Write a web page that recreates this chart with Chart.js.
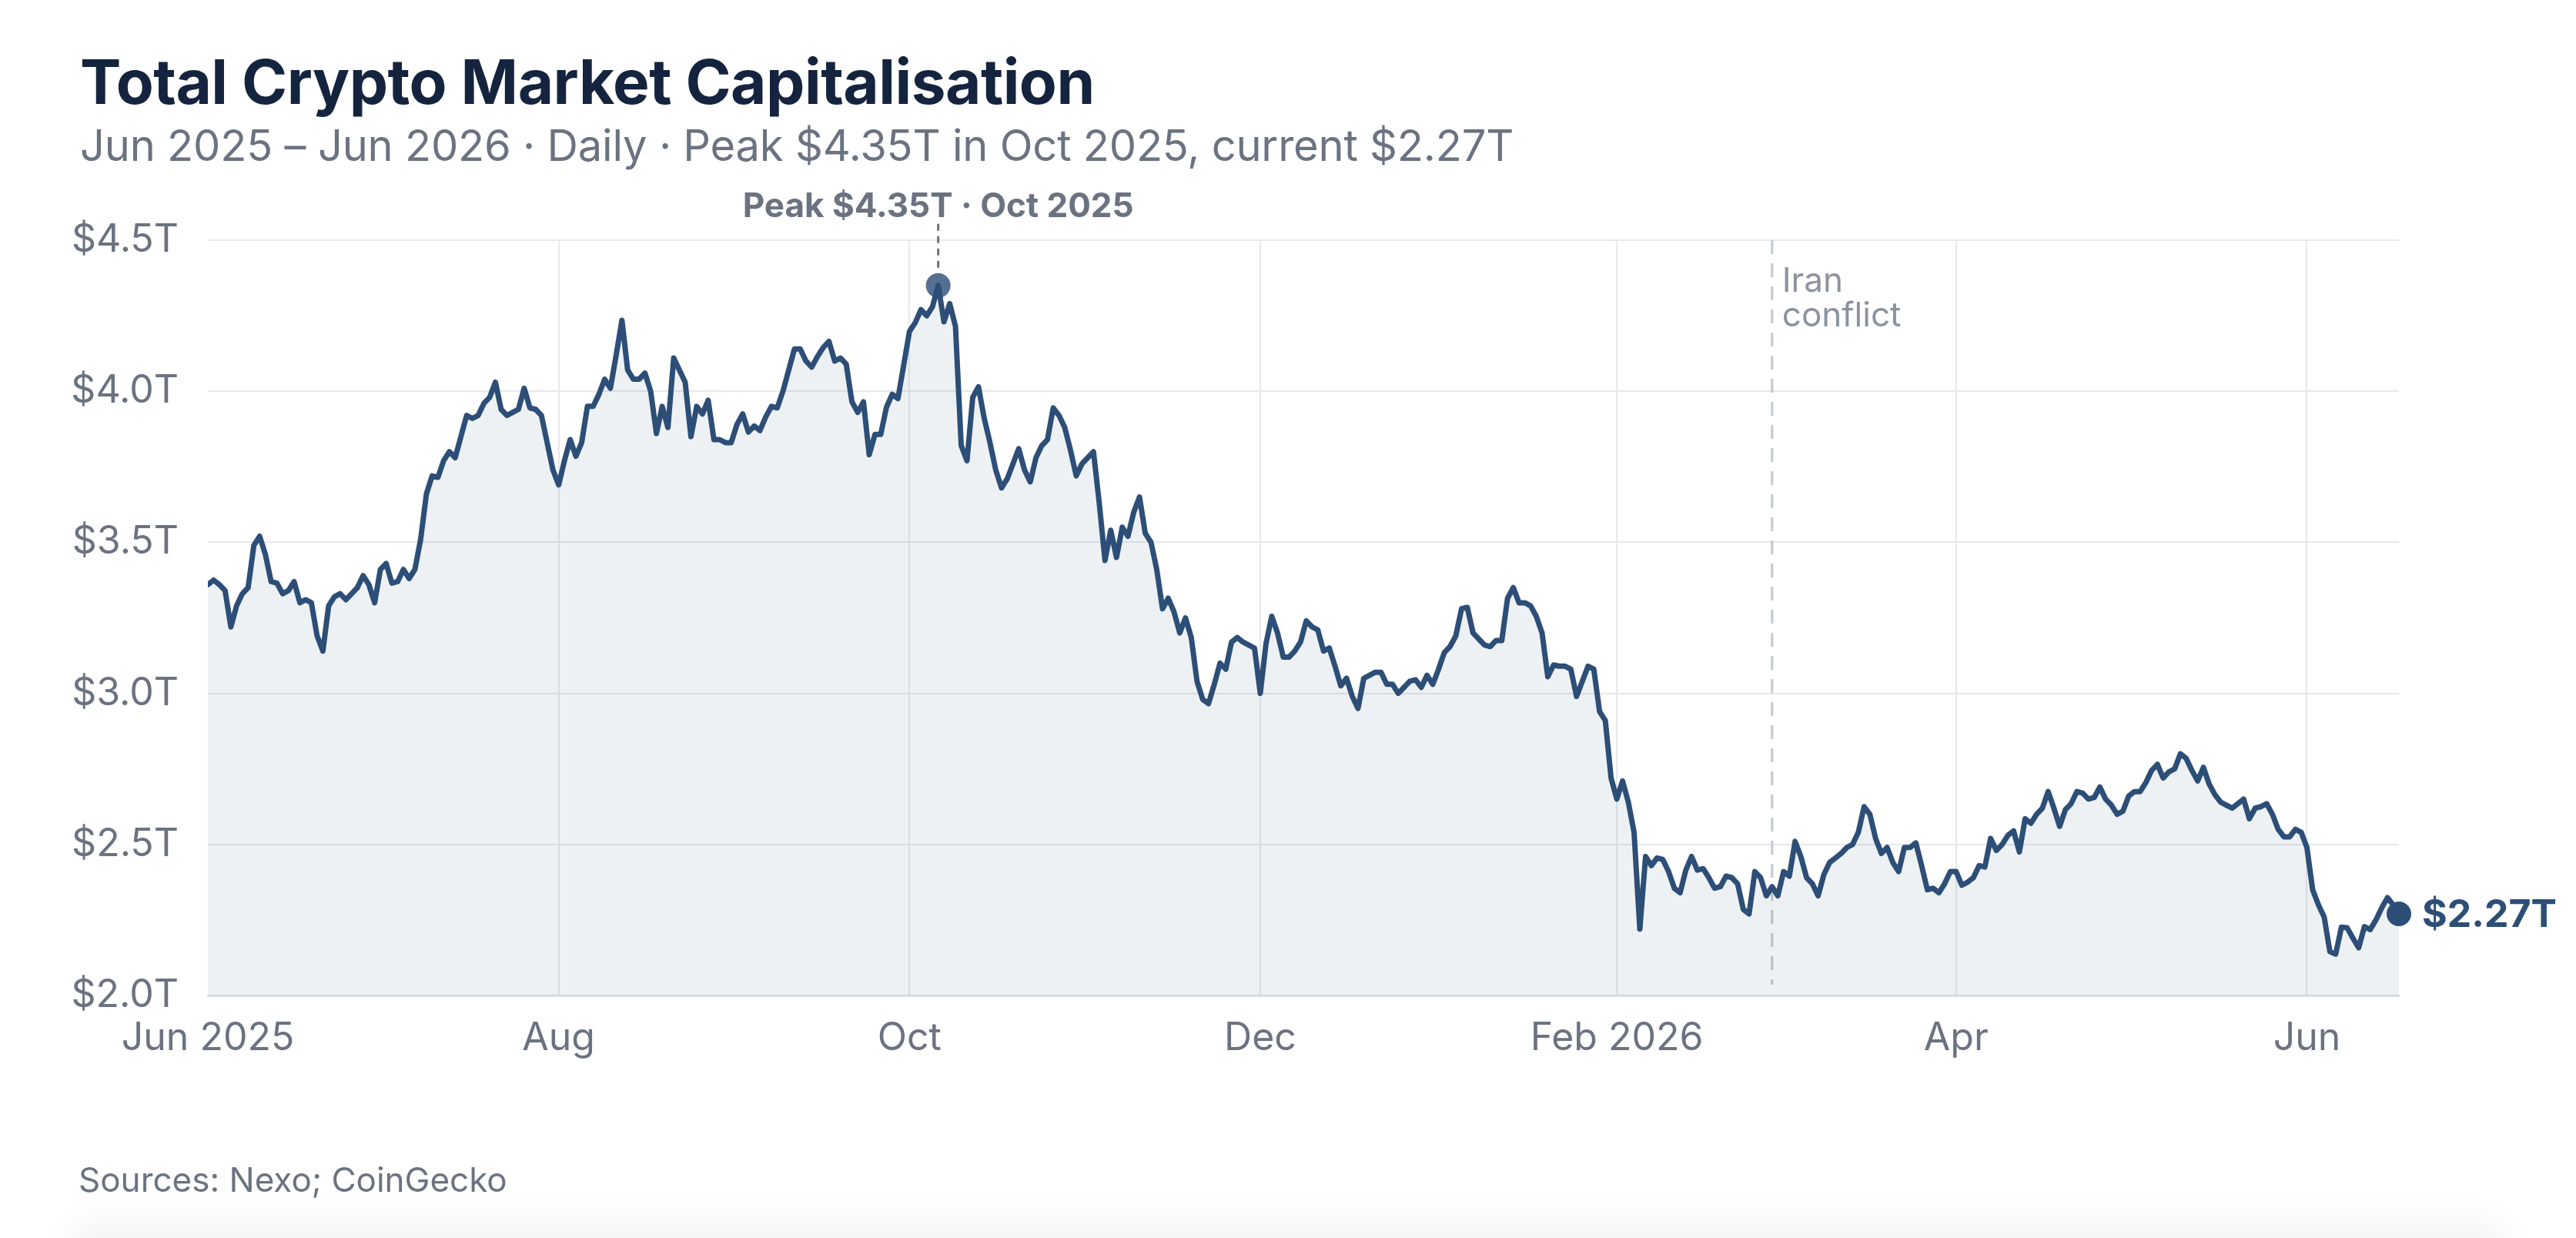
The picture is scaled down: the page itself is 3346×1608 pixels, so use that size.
<!DOCTYPE html>
<html lang="en">
<head>
<meta charset="utf-8">
<title>Total Crypto Market Capitalisation</title>
<script src="https://cdn.jsdelivr.net/npm/chart.js@4.4.1/dist/chart.umd.min.js"></script>
<style>
  html, body { margin: 0; padding: 0; background: #ffffff; }
  body { position: relative; width: 3346px; height: 1608px; overflow: hidden; font-family: Inter, "Noto Sans", sans-serif; }
  .txt { position: absolute; white-space: nowrap; line-height: 1; }
  #title { left: 104px; top: 66px; font-size: 80px; font-weight: 700; color: #14243e; letter-spacing: -0.5px; }
  #subtitle { left: 104px; top: 161px; font-size: 56px; color: #6b7280; letter-spacing: -0.2px; }
  #source { left: 102px; top: 1510px; font-size: 44px; color: #6b7280; }
  #chartBox { position: absolute; left: 0; top: 0; width: 3346px; height: 1608px; }
  #shade { position: absolute; left: 90px; right: 90px; top: 1590px; height: 80px; background: rgba(0, 0, 0, 0.05); filter: blur(22px); border-radius: 40px; }
</style>
</head>
<body>
<div id="shade"></div>
<div id="chartBox"><canvas id="chart" width="3346" height="1608"></canvas></div>
<div class="txt" id="title">Total Crypto Market Capitalisation</div>
<div class="txt" id="subtitle">Jun 2025 – Jun 2026 · Daily · Peak $4.35T in Oct 2025, current $2.27T</div>
<div class="txt" id="source">Sources: Nexo; CoinGecko</div>
<script>
const startDate = "2025-06-01";

// total market cap, $ trillion, one value per day from startDate
const marketCap = [
  3.36, 3.375, 3.36, 3.34, 3.22, 3.29, 3.33, 3.35, 3.49, 3.52,
  3.46, 3.37, 3.365, 3.33, 3.34, 3.37, 3.30, 3.31, 3.30, 3.19,
  3.14, 3.29, 3.32, 3.33, 3.31, 3.33, 3.35, 3.39, 3.36, 3.30,
  3.41, 3.43, 3.365, 3.37, 3.41, 3.38, 3.41, 3.51, 3.66, 3.72,
  3.715, 3.77, 3.80, 3.78, 3.85, 3.92, 3.91, 3.92, 3.96, 3.98,
  4.03, 3.94, 3.92, 3.93, 3.94, 4.01, 3.945, 3.94, 3.92, 3.83,
  3.74, 3.69, 3.77, 3.84, 3.785, 3.83, 3.95, 3.95, 3.99, 4.04,
  4.01, 4.12, 4.235, 4.07, 4.04, 4.04, 4.06, 4.00, 3.86, 3.95,
  3.88, 4.11, 4.07, 4.03, 3.85, 3.95, 3.925, 3.97, 3.84, 3.84,
  3.83, 3.83, 3.89, 3.925, 3.865, 3.885, 3.87, 3.915, 3.95, 3.945,
  4.00, 4.07, 4.14, 4.14, 4.10, 4.08, 4.115, 4.145, 4.165, 4.10,
  4.11, 4.09, 3.965, 3.93, 3.965, 3.79, 3.857, 3.857, 3.947, 3.99,
  3.976, 4.087, 4.198, 4.227, 4.27, 4.25, 4.28, 4.35, 4.23, 4.29,
  4.215, 3.82, 3.77, 3.98, 4.015, 3.91, 3.83, 3.74, 3.68, 3.71,
  3.76, 3.81, 3.74, 3.70, 3.78, 3.82, 3.84, 3.945, 3.92, 3.88,
  3.805, 3.72, 3.76, 3.78, 3.80, 3.63, 3.44, 3.54, 3.45, 3.55,
  3.52, 3.60, 3.65, 3.53, 3.50, 3.41, 3.28, 3.315, 3.27, 3.20,
  3.25, 3.185, 3.04, 2.98, 2.966, 3.03, 3.10, 3.08, 3.17, 3.185,
  3.17, 3.16, 3.15, 3.00, 3.165, 3.255, 3.20, 3.12, 3.12, 3.14,
  3.17, 3.24, 3.22, 3.21, 3.14, 3.15, 3.09, 3.025, 3.05, 2.99,
  2.95, 3.05, 3.06, 3.07, 3.07, 3.03, 3.03, 3.00, 3.02, 3.04,
  3.045, 3.02, 3.06, 3.03, 3.08, 3.135, 3.155, 3.19, 3.28, 3.285,
  3.20, 3.18, 3.16, 3.155, 3.175, 3.175, 3.315, 3.35, 3.30, 3.30,
  3.29, 3.255, 3.20, 3.055, 3.094, 3.09, 3.09, 3.08, 2.99, 3.04,
  3.09, 3.08, 2.94, 2.91, 2.72, 2.65, 2.71, 2.64, 2.54, 2.22,
  2.46, 2.43, 2.455, 2.45, 2.41, 2.355, 2.34, 2.415, 2.46, 2.415,
  2.42, 2.39, 2.355, 2.36, 2.395, 2.39, 2.37, 2.285, 2.27, 2.41,
  2.39, 2.33, 2.36, 2.33, 2.41, 2.395, 2.51, 2.46, 2.39, 2.37,
  2.33, 2.40, 2.44, 2.455, 2.47, 2.49, 2.50, 2.54, 2.625, 2.60,
  2.52, 2.47, 2.49, 2.44, 2.41, 2.49, 2.49, 2.505, 2.43, 2.35,
  2.355, 2.34, 2.37, 2.41, 2.41, 2.365, 2.375, 2.39, 2.43, 2.425,
  2.52, 2.48, 2.50, 2.53, 2.545, 2.475, 2.585, 2.57, 2.60, 2.62,
  2.675, 2.62, 2.56, 2.615, 2.635, 2.675, 2.67, 2.65, 2.655, 2.69,
  2.65, 2.63, 2.60, 2.61, 2.66, 2.675, 2.675, 2.705, 2.745, 2.765,
  2.72, 2.74, 2.75, 2.80, 2.785, 2.745, 2.71, 2.755, 2.70, 2.665,
  2.64, 2.63, 2.62, 2.635, 2.65, 2.585, 2.62, 2.625, 2.635, 2.60,
  2.55, 2.525, 2.525, 2.55, 2.54, 2.49, 2.35, 2.30, 2.26, 2.145,
  2.137, 2.226, 2.224, 2.19, 2.158, 2.228, 2.218, 2.25, 2.29, 2.324,
  2.30, 2.27
];

const tickDates = ["2025-06-01", "2025-08-01", "2025-10-01", "2025-12-01", "2026-02-01", "2026-04-01", "2026-06-01"];
const tickLabels = ["Jun 2025", "Aug", "Oct", "Dec", "Feb 2026", "Apr", "Jun"];
const yTicks = [2.0, 2.5, 3.0, 3.5, 4.0, 4.5];

const eventDate = "2026-02-28";
const eventLabel = ["Iran", "conflict"];

const navy = "#2c4e77";
const grey = "#6b7280";
const gridGrey = "#e6e8ec";

function dayIndex(dateStr) {
  return Math.round((Date.parse(dateStr) - Date.parse(startDate)) / 86400000);
}

function fmtT(v) {
  return "$" + v.toFixed(2).replace(/0$/, "") + "T";
}

const points = marketCap.map((v, i) => ({ x: i, y: v }));
const tickDays = tickDates.map(dayIndex);

let peakIdx = 0;
marketCap.forEach((v, i) => { if (v > marketCap[peakIdx]) peakIdx = i; });
const lastIdx = marketCap.length - 1;

const annotations = {
  id: "annotations",
  beforeDatasetsDraw(chart) {
    const { ctx, chartArea } = chart;
    const ex = chart.scales.x.getPixelForValue(dayIndex(eventDate));
    ctx.save();
    ctx.strokeStyle = "#c3c8cf";
    ctx.lineWidth = 3;
    ctx.setLineDash([18, 12]);
    ctx.beginPath();
    ctx.moveTo(ex, chartArea.top);
    ctx.lineTo(ex, chartArea.bottom - 14);
    ctx.stroke();
    ctx.setLineDash([]);
    ctx.fillStyle = "#8b939e";
    ctx.font = "44px Inter";
    ctx.textAlign = "left";
    ctx.textBaseline = "alphabetic";
    ctx.fillText(eventLabel[0], ex + 13, chartArea.top + 67);
    ctx.fillText(eventLabel[1], ex + 13, chartArea.top + 112);
    ctx.restore();
  },
  afterDatasetsDraw(chart) {
    const { ctx } = chart;
    const x = chart.scales.x, y = chart.scales.y;
    const px = x.getPixelForValue(peakIdx), py = y.getPixelForValue(marketCap[peakIdx]);
    ctx.save();
    ctx.strokeStyle = grey;
    ctx.lineWidth = 3;
    ctx.setLineDash([9, 7]);
    ctx.beginPath();
    ctx.moveTo(px, py - 80);
    ctx.lineTo(px, py - 18);
    ctx.stroke();
    ctx.setLineDash([]);
    ctx.fillStyle = grey;
    ctx.font = "bold 44px Inter";
    ctx.textAlign = "center";
    ctx.textBaseline = "alphabetic";
    ctx.fillText("Peak " + fmtT(marketCap[peakIdx]) + " · Oct 2025", px, py - 89);

    const ex = x.getPixelForValue(lastIdx), ey = y.getPixelForValue(marketCap[lastIdx]);
    ctx.fillStyle = navy;
    ctx.font = "bold 50px Inter";
    ctx.textAlign = "left";
    ctx.textBaseline = "alphabetic";
    ctx.fillText(fmtT(marketCap[lastIdx]), ex + 30, ey + 17);
    ctx.restore();
  }
};

const ctx = document.getElementById("chart").getContext("2d");
new Chart(ctx, {
  type: "line",
  data: {
    datasets: [
      {
        data: points,
        borderColor: navy,
        borderWidth: 7,
        borderJoinStyle: "round",
        borderCapStyle: "round",
        backgroundColor: "rgba(44, 78, 119, 0.08)",
        fill: "start",
        pointRadius: 0,
        tension: 0,
        order: 1
      },
      {
        data: [{ x: peakIdx, y: marketCap[peakIdx] }],
        showLine: false,
        pointRadius: 16,
        pointBorderWidth: 0,
        pointBackgroundColor: "#546f91",
        clip: false,
        order: 2
      },
      {
        data: [{ x: lastIdx, y: marketCap[lastIdx] }],
        showLine: false,
        pointRadius: 16,
        pointBorderWidth: 0,
        pointBackgroundColor: navy,
        clip: false,
        order: 0
      }
    ]
  },
  options: {
    responsive: false,
    animation: false,
    devicePixelRatio: 1,
    layout: { padding: { left: 0, top: 312, right: 230, bottom: 195 } },
    plugins: { legend: { display: false }, tooltip: { enabled: false } },
    scales: {
      x: {
        type: "linear",
        min: 0,
        max: lastIdx,
        afterBuildTicks: scale => { scale.ticks = tickDays.map(v => ({ value: v })); },
        afterFit: scale => { scale.height = 120; },
        ticks: {
          autoSkip: false,
          maxRotation: 0,
          padding: 26,
          color: grey,
          font: { family: "Inter", size: 50 },
          callback: (v, i) => tickLabels[i]
        },
        grid: { drawTicks: false, lineWidth: 2, color: c => c.index === 0 ? "rgba(0,0,0,0)" : gridGrey },
        border: { display: true, color: "#dcdfe4", width: 3 }
      },
      y: {
        min: 2,
        max: 4.5,
        afterBuildTicks: scale => { scale.ticks = yTicks.map(v => ({ value: v })); },
        afterFit: scale => { scale.width = 270; },
        ticks: {
          padding: 38,
          color: grey,
          font: { family: "Inter", size: 50 },
          callback: v => "$" + v.toFixed(1) + "T"
        },
        grid: { drawTicks: false, lineWidth: 2, color: gridGrey },
        border: { display: false }
      }
    }
  },
  plugins: [annotations]
});
</script>
</body>
</html>
